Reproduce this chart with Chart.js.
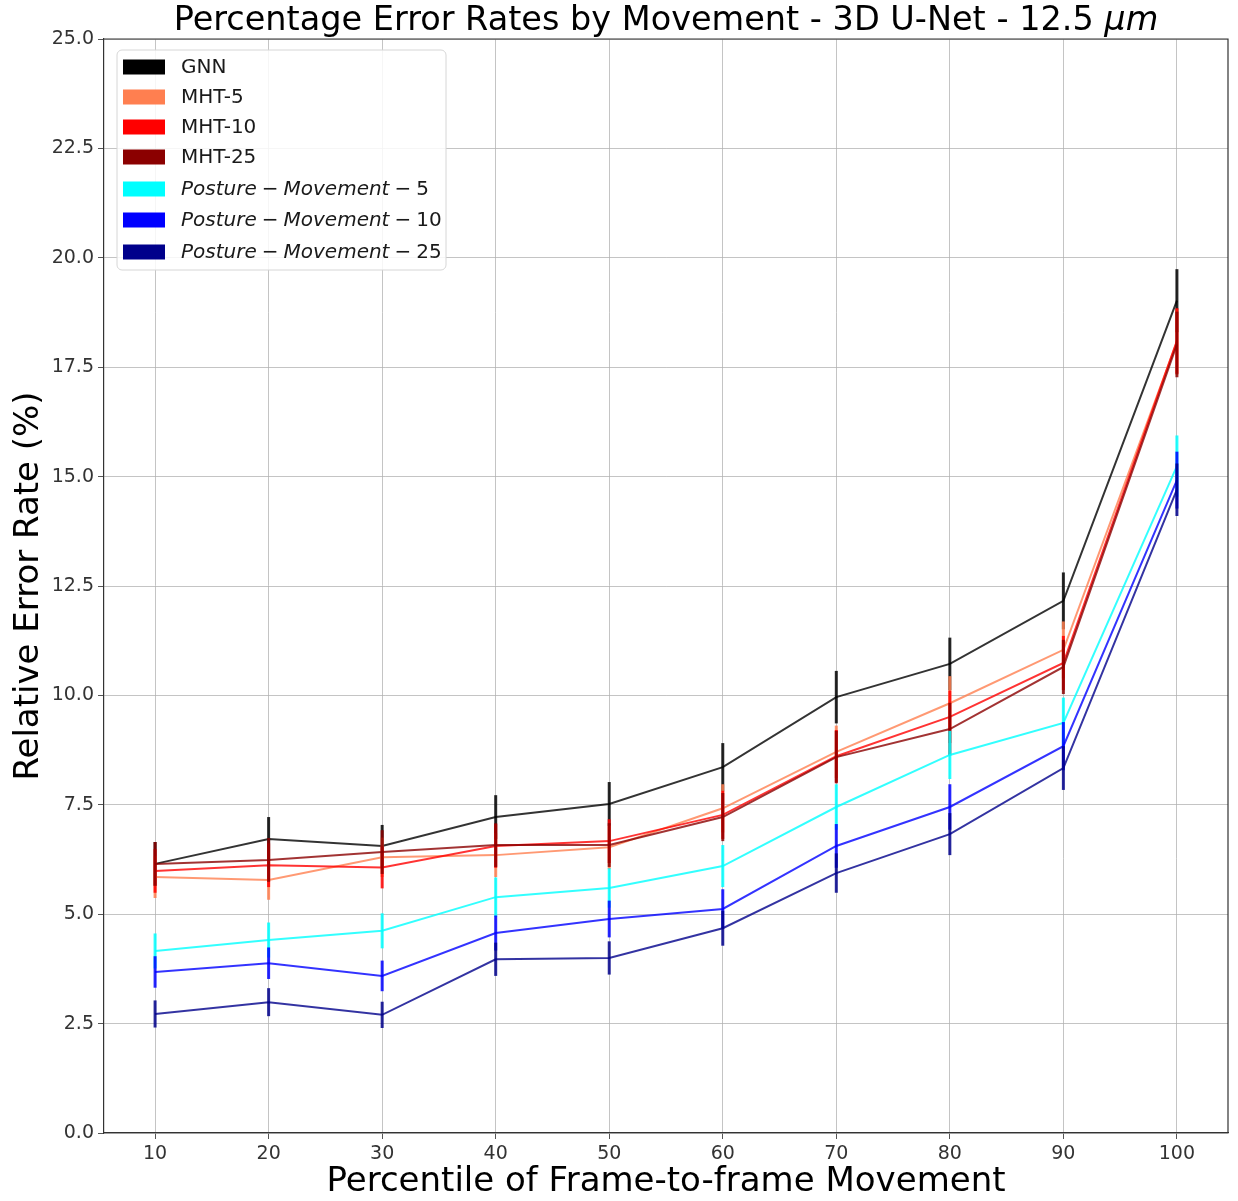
<!DOCTYPE html>
<html>
<head>
<meta charset="utf-8">
<script src="https://cdn.jsdelivr.net/npm/chart.js@4"></script>
<style>
  html, body { margin: 0; padding: 0; background: #ffffff; }
  #wrap { width: 1238px; height: 1201px; }
</style>
</head>
<body>
<div id="wrap"><canvas id="c" width="1238" height="1201"></canvas></div>
<script>
// ---- data ----
const percentiles = [10, 20, 30, 40, 50, 60, 70, 80, 90, 100];
const xTicks = [10, 20, 30, 40, 50, 60, 70, 80, 90, 100];
const yTicks = [0, 2.5, 5, 7.5, 10, 12.5, 15, 17.5, 20, 22.5, 25];

const seriesNames = ['GNN', 'MHT-5', 'MHT-10', 'MHT-25',
  'Posture-Movement-5', 'Posture-Movement-10', 'Posture-Movement-25'];

const gnn      = [6.15, 6.72, 6.56, 7.22, 7.52, 8.36, 9.96, 10.72, 12.16, 19.02];
const mht5     = [5.85, 5.78, 6.30, 6.35, 6.53, 7.42, 8.71, 9.82, 11.04, 18.08];
const mht10    = [5.99, 6.12, 6.07, 6.56, 6.67, 7.27, 8.61, 9.51, 10.74, 18.10];
const mht25    = [6.15, 6.24, 6.42, 6.58, 6.58, 7.22, 8.59, 9.23, 10.65, 18.02];
const pm5      = [4.16, 4.41, 4.62, 5.39, 5.60, 6.10, 7.45, 8.64, 9.37, 15.24];
const pm10     = [3.68, 3.88, 3.59, 4.57, 4.89, 5.12, 6.56, 7.45, 8.84, 14.92];
const pm25     = [2.72, 2.99, 2.70, 3.97, 4.00, 4.68, 5.94, 6.83, 8.34, 14.70];

// half-lengths of the error bars
const gnnErr   = [0.50, 0.50, 0.48, 0.50, 0.50, 0.55, 0.60, 0.60, 0.65, 0.72];
const mht5Err  = [0.48, 0.45, 0.45, 0.50, 0.50, 0.55, 0.60, 0.62, 0.65, 0.75];
const mht10Err = [0.50, 0.50, 0.48, 0.50, 0.50, 0.55, 0.60, 0.60, 0.62, 0.75];
const mht25Err = [0.50, 0.50, 0.50, 0.50, 0.50, 0.55, 0.60, 0.60, 0.62, 0.75];
const pm5Err   = [0.40, 0.40, 0.40, 0.45, 0.45, 0.48, 0.52, 0.55, 0.58, 0.70];
const pm10Err  = [0.36, 0.36, 0.35, 0.40, 0.42, 0.45, 0.50, 0.52, 0.55, 0.65];
const pm25Err  = [0.31, 0.32, 0.30, 0.38, 0.38, 0.40, 0.45, 0.48, 0.50, 0.60];

const values = [gnn, mht5, mht10, mht25, pm5, pm10, pm25];
const errors = [gnnErr, mht5Err, mht10Err, mht25Err, pm5Err, pm10Err, pm25Err];
const colors = ['#000000', '#ff7f50', '#ff0000', '#8b0000', '#00ffff', '#0000ff', '#00008b'];

function rgba(hex, a) {
  const n = parseInt(hex.slice(1), 16);
  return `rgba(${(n >> 16) & 255},${(n >> 8) & 255},${n & 255},${a})`;
}

const FONT = "'DejaVu Sans', sans-serif";

const datasets = values.map((vals, i) => ({
  label: seriesNames[i],
  data: percentiles.map((p, k) => ({ x: p, y: vals[k] })),
  borderColor: rgba(colors[i], 0.8),
  backgroundColor: colors[i],
  borderWidth: 2,
  pointRadius: 0,
  tension: 0,
  fill: false,
  order: values.length - i,
  errs: errors[i]
}));

// error bars drawn through the library scales
const errorBarPlugin = {
  id: 'errorBars',
  afterDatasetDraw(chart, args) {
    const ds = chart.data.datasets[args.index];
    const meta = args.meta;
    const ys = chart.scales.y;
    const ctx = chart.ctx;
    ctx.save();
    ctx.strokeStyle = rgba(colors[args.index], 0.85);
    ctx.lineWidth = 3;
    meta.data.forEach((pt, k) => {
      const v = ds.data[k].y, e = ds.errs[k];
      ctx.beginPath();
      ctx.moveTo(pt.x, ys.getPixelForValue(v - e));
      ctx.lineTo(pt.x, ys.getPixelForValue(v + e));
      ctx.stroke();
    });
    ctx.restore();
  }
};

// title, frame and legend
const decorPlugin = {
  id: 'decor',
  afterDraw(chart) {
    const ctx = chart.ctx;
    const a = chart.chartArea;
    ctx.save();
    // top & right spines
    ctx.strokeStyle = '#333333';
    ctx.lineWidth = 1.2;
    ctx.beginPath();
    ctx.moveTo(a.left, a.top); ctx.lineTo(a.right, a.top); ctx.lineTo(a.right, a.bottom);
    ctx.stroke();

    // title with italic unit
    const tSize = 33.5;
    const part1 = 'Percentage Error Rates by Movement - 3D U-Net - 12.5 ';
    const part2 = 'μm';
    ctx.fillStyle = '#000000';
    ctx.textBaseline = 'alphabetic';
    ctx.font = `${tSize}px ${FONT}`;
    const w1 = ctx.measureText(part1).width;
    ctx.font = `italic ${tSize}px ${FONT}`;
    const w2 = ctx.measureText(part2).width;
    let tx = (a.left + a.right) / 2 - (w1 + w2) / 2;
    ctx.font = `${tSize}px ${FONT}`;
    ctx.fillText(part1, tx, 30);
    ctx.font = `italic ${tSize}px ${FONT}`;
    ctx.fillText(part2, tx + w1, 30);

    // legend box
    const bx = 117, by = 50, bw = 329, bh = 220, r = 5;
    ctx.beginPath();
    ctx.moveTo(bx + r, by);
    ctx.arcTo(bx + bw, by, bx + bw, by + bh, r);
    ctx.arcTo(bx + bw, by + bh, bx, by + bh, r);
    ctx.arcTo(bx, by + bh, bx, by, r);
    ctx.arcTo(bx, by, bx + bw, by, r);
    ctx.closePath();
    ctx.fillStyle = 'rgba(255,255,255,0.85)';
    ctx.fill();
    ctx.strokeStyle = '#d6d6d6';
    ctx.lineWidth = 1;
    ctx.stroke();

    const rowsY = [67, 97, 127, 157, 189, 220, 252];
    const lSize = 20;
    ctx.textBaseline = 'middle';
    seriesNames.forEach((name, i) => {
      const cy = rowsY[i];
      ctx.fillStyle = colors[i];
      ctx.fillRect(123, cy - 7.5, 42, 15);
      ctx.fillStyle = '#1a1a1a';
      let x = 181;
      let parts;
      if (i < 4) {
        parts = [[name, false, 0]];
      } else {
        const num = name.split('-')[2];
        parts = [['Posture', true, 0], ['\u2212', false, 5], ['Movement', true, 5], ['\u2212', false, 5], [num, false, 5]];
      }
      parts.forEach(([txt, it, gap]) => {
        x += gap;
        ctx.font = `${it ? 'italic ' : ''}${lSize}px ${FONT}`;
        ctx.fillText(txt, x, cy + 1);
        x += ctx.measureText(txt).width;
      });
    });
    ctx.restore();
  }
};

new Chart(document.getElementById('c'), {
  type: 'line',
  data: { datasets },
  plugins: [errorBarPlugin, decorPlugin],
  options: {
    responsive: false,
    animation: false,
    devicePixelRatio: 1,
    layout: { padding: { top: 39, right: 10, left: 0, bottom: 0 } },
    plugins: {
      legend: { display: false },
      title: { display: false },
      tooltip: { enabled: false }
    },
    scales: {
      x: {
        type: 'linear',
        min: 5.5,
        max: 104.5,
        afterBuildTicks(s) { s.ticks = xTicks.map(v => ({ value: v })); },
        afterFit(s) { s.height = 68; },
        ticks: {
          color: '#333333',
          font: { family: FONT, size: 19 },
          padding: 4,
          maxRotation: 0,
          autoSkip: false,
          callback: v => String(v)
        },
        grid: {
          color: 'rgba(176,176,176,0.75)',
          lineWidth: 1,
          tickColor: '#555555',
          tickLength: 6,
          drawTicks: true
        },
        border: { color: '#333333', width: 1.2 },
        title: {
          display: true,
          text: 'Percentile of Frame-to-frame Movement',
          color: '#000000',
          font: { family: FONT, size: 34, lineHeight: 1.1 },
          padding: { top: 0, bottom: 0 }
        }
      },
      y: {
        type: 'linear',
        min: 0,
        max: 25,
        afterBuildTicks(s) { s.ticks = yTicks.map(v => ({ value: v })); },
        afterFit(s) { s.width = 104; },
        ticks: {
          color: '#333333',
          font: { family: FONT, size: 19 },
          padding: 4,
          autoSkip: false,
          callback: v => Number(v).toFixed(1)
        },
        grid: {
          color: 'rgba(176,176,176,0.75)',
          lineWidth: 1,
          tickColor: '#555555',
          tickLength: 6
        },
        border: { color: '#333333', width: 1.2 },
        title: {
          display: true,
          text: 'Relative Error Rate (%)',
          color: '#000000',
          font: { family: FONT, size: 34, lineHeight: 1.1 },
          padding: { top: 10, bottom: 0 }
        }
      }
    }
  }
});
</script>
</body>
</html>
